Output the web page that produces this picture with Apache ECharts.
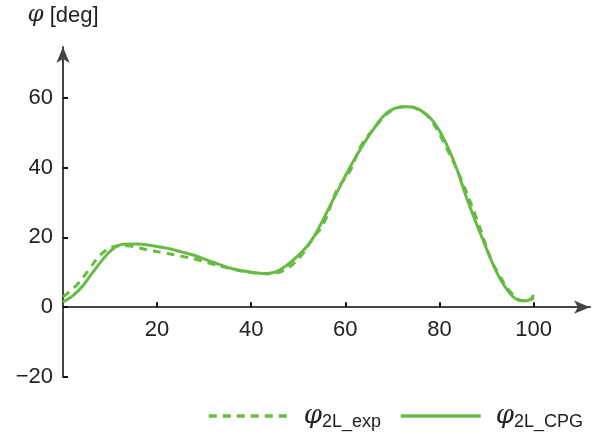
<!DOCTYPE html>
<html>
<head>
<meta charset="utf-8">
<script src="https://cdn.jsdelivr.net/npm/echarts@6/dist/echarts.min.js"></script>
<style>
  html, body { margin: 0; padding: 0; background: #fff; }
  #chart { width: 592px; height: 434px; }
</style>
</head>
<body>
<div id="chart"></div>
<script>
// ---------- data ----------
const xExp = [0, 2.9, 5.7, 7.9, 10.7, 13.6, 16, 18, 21, 24, 28, 32, 36, 40, 43.5, 47, 50.4, 53, 55.4, 58.2, 61.1, 63.2, 66, 69.5, 73, 76.5, 78.5, 81, 84.5, 88, 91, 92.5, 95, 97.5, 99, 100];
const yExp = [3.0, 6.3, 11.1, 14.9, 17.3, 17.6, 17.0, 16.4, 15.7, 14.9, 13.8, 12.3, 10.9, 9.9, 9.6, 10.6, 14.4, 19.5, 24, 33.5, 39.3, 45.9, 51, 56, 57.5, 55.8, 53, 47, 37, 25, 13.5, 9.7, 4.5, 1.9, 1.8, 2.8];

const xCpg = [0, 2.2, 4.3, 6.4, 8.6, 10.7, 12.8, 15.7, 19, 22, 25, 28, 32, 36, 40, 43, 46, 50, 53, 57.5, 62, 66, 69.6, 73.5, 77.4, 80, 83, 86, 89, 92, 94.5, 97, 98.5, 99.5, 100];
const yCpg = [1.5, 3.4, 6.3, 10.1, 13.9, 16.8, 18, 18.1, 17.6, 16.9, 15.9, 14.8, 12.8, 11, 10, 9.6, 10.6, 14.8, 19.5, 31, 42.5, 51, 56.4, 57.4, 55, 50.5, 42, 30.5, 20.1, 10.5, 4.8, 1.9, 1.8, 2.5, 3.5];

const xTicks = [20, 40, 60, 80, 100];
const yTicks = [-20, 0, 20, 40, 60];
const seriesNames = ['exp', 'CPG'];

// ---------- chart ----------
const GREEN = '#66bb44';
const zip = (xs, ys) => xs.map((x, i) => [x, ys[i]]);

const chart = echarts.init(document.getElementById('chart'));

const axisCommon = {
  axisLine: {
    lineStyle: { color: '#444', width: 2 },
    symbol: ['none', 'arrow'],
    symbolSize: [10, 16],
  },
  axisTick: { inside: true, length: 5, lineStyle: { color: '#111', width: 2 } },
  axisLabel: {
    color: '#222',
    fontSize: 22,
    fontFamily: 'Liberation Sans, Arial',
    formatter: (v) => String(v).replace('-', '\u2212'),
  },
  splitLine: { show: false },
};

chart.setOption({
  animation: false,
  backgroundColor: '#fff',
  grid: { left: 63, right: 2, top: 47, bottom: 57 },
  legend: {
    right: 4,
    top: 398,
    itemWidth: 80,
    itemHeight: 14,
    itemGap: 18,
    itemStyle: { opacity: 0 },
    lineStyle: { width: 3.5 },
    formatter: (name) => '{a|φ}{b|2L_' + name + '}',
    textStyle: {
      rich: {
        a: { fontSize: 26, fontStyle: 'italic', color: '#222', fontFamily: 'DejaVu Serif', padding: [0, 0, 0, 10] },
        b: { fontSize: 18, color: '#222', fontFamily: 'Liberation Sans, Arial', padding: [12, 0, 0, 0] },
      },
    },
    data: seriesNames,
  },
  xAxis: {
    ...axisCommon,
    type: 'value',
    min: 0,
    max: 112,
    interval: 20,
    axisTick: { ...axisCommon.axisTick, customValues: xTicks },
    axisLabel: { ...axisCommon.axisLabel, margin: -58, customValues: xTicks },
  },
  yAxis: {
    ...axisCommon,
    type: 'value',
    min: -20,
    max: 74.5,
    interval: 20,
    name: '{p|φ} [deg]',
    nameLocation: 'end',
    nameGap: 20,
    nameTextStyle: {
      color: '#222',
      fontSize: 22,
      fontFamily: 'Liberation Sans, Arial',
      rich: {
        p: { fontSize: 23, fontStyle: 'italic', color: '#222', fontFamily: 'DejaVu Serif' },
      },
    },
    axisTick: { ...axisCommon.axisTick, customValues: yTicks },
    axisLabel: { ...axisCommon.axisLabel, margin: 10, customValues: yTicks },
  },
  series: [
    {
      name: 'exp',
      type: 'line',
      smooth: 0.4,
      symbol: 'none',
      data: zip(xExp, yExp),
      lineStyle: { color: GREEN, width: 3, type: [8, 6] },
      itemStyle: { color: GREEN },
    },
    {
      name: 'CPG',
      type: 'line',
      smooth: 0.4,
      symbol: 'none',
      data: zip(xCpg, yCpg),
      lineStyle: { color: GREEN, width: 3 },
      itemStyle: { color: GREEN },
    },
  ],
});
</script>
</body>
</html>
